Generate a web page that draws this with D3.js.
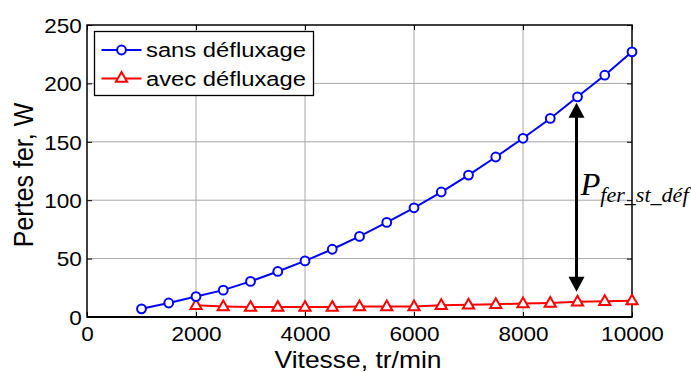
<!DOCTYPE html>
<html>
<head>
<meta charset="utf-8">
<script src="https://cdn.jsdelivr.net/npm/d3@7"></script>
<style>
  html, body { margin: 0; padding: 0; background: #fff; }
  svg { display: block; }
  text { font-family: "Liberation Sans", Arial, sans-serif; fill: #000; }
  text.serif { font-family: "Liberation Serif", "Times New Roman", serif; font-style: italic; }
</style>
</head>
<body>
<svg id="chart" width="691" height="372"></svg>
<script>
// Speed (tr/min) for each series
const speedsSans = [1000, 1500, 2000, 2500, 3000, 3500, 4000, 4500, 5000, 5500,
                    6000, 6500, 7000, 7500, 8000, 8500, 9000, 9500, 10000];
const speedsAvec = [2000, 2500, 3000, 3500, 4000, 4500, 5000, 5500,
                    6000, 6500, 7000, 7500, 8000, 8500, 9000, 9500, 10000];
// Iron losses (W)
const pertesSans = [7, 12, 17.5, 23, 30.5, 39, 48, 58, 69, 81,
                    93.5, 107, 121.5, 137, 153, 170, 188.5, 207, 227];
const pertesAvec = [10, 9, 8.5, 8.5, 8.5, 8.5, 9, 9,
                    9, 10, 10.5, 11, 11.5, 12, 13, 13.5, 14];

const xTicks = [0, 2000, 4000, 6000, 8000, 10000];
const yTicks = [0, 50, 100, 150, 200, 250];
const seriesNames = ["sans défluxage", "avec défluxage"];
const xLabel = "Vitesse, tr/min";
const yLabel = "Pertes fer, W";
const arrowSpeed = 9000;

const svg = d3.select("#chart");
const pLeft = 87, pRight = 632, pTop = 25, pBottom = 317;
const stretch = 1.13;

svg.append("rect").attr("width", 691).attr("height", 372).attr("fill", "#fff");

const x = d3.scaleLinear().domain([0, 10000]).range([pLeft, pRight]);
const y = d3.scaleLinear().domain([0, 250]).range([pBottom, pTop]);

// grid
const grid = svg.append("g").attr("stroke", "#a6a6a6").attr("stroke-width", 1);
grid.selectAll("line.gx").data(xTicks.slice(1, -1)).join("line").attr("class", "gx")
  .attr("x1", d => x(d)).attr("x2", d => x(d)).attr("y1", pTop).attr("y2", pBottom);
grid.selectAll("line.gy").data(yTicks.slice(1, -1)).join("line").attr("class", "gy")
  .attr("y1", d => y(d)).attr("y2", d => y(d)).attr("x1", pLeft).attr("x2", pRight);

// axes with inward ticks on all four sides
const fmt = d3.format("d");
const axB = svg.append("g").attr("transform", `translate(0,${pBottom})`)
  .call(d3.axisBottom(x).tickValues(xTicks).tickFormat(fmt).tickSize(-5).tickSizeOuter(0));
const axL = svg.append("g").attr("transform", `translate(${pLeft},0)`)
  .call(d3.axisLeft(y).tickValues(yTicks).tickFormat(fmt).tickSize(-5).tickSizeOuter(0));
const axT = svg.append("g").attr("transform", `translate(0,${pTop})`)
  .call(d3.axisTop(x).tickValues(xTicks).tickFormat("").tickSize(-5).tickSizeOuter(0));
const axR = svg.append("g").attr("transform", `translate(${pRight},0)`)
  .call(d3.axisRight(y).tickValues(yTicks).tickFormat("").tickSize(-5).tickSizeOuter(0));

[axB, axL, axT, axR].forEach(a => {
  a.select(".domain").remove();
  a.selectAll(".tick line").attr("stroke", "#000").attr("stroke-width", 1);
});
axB.selectAll(".tick text")
  .style("font-size", "20px").attr("fill", "#000")
  .attr("y", 24).attr("dy", 0)
  .attr("transform", `scale(${stretch},1)`);
axL.selectAll(".tick text")
  .style("font-size", "20px").attr("fill", "#000")
  .attr("x", -4.5).attr("dy", "0.36em")
  .attr("transform", `scale(${stretch},1)`);

// box
svg.append("rect").attr("x", pLeft).attr("y", pTop)
  .attr("width", pRight - pLeft).attr("height", pBottom - pTop)
  .attr("fill", "none").attr("stroke", "#000").attr("stroke-width", 1.5);
svg.append("line").attr("x1", pLeft).attr("x2", pRight).attr("y1", pBottom).attr("y2", pBottom)
  .attr("stroke", "#000").attr("stroke-width", 2.2);

// series
const line = d3.line();
const sans = speedsSans.map((s, i) => [x(s), y(pertesSans[i])]);
const avec = speedsAvec.map((s, i) => [x(s), y(pertesAvec[i])]);

svg.append("path").attr("d", line(avec)).attr("fill", "none")
  .attr("stroke", "#ff0000").attr("stroke-width", 2);
svg.append("path").attr("d", line(sans)).attr("fill", "none")
  .attr("stroke", "#0000ff").attr("stroke-width", 2);

const tri = d3.symbol(d3.symbolTriangle, 54);
svg.append("g").selectAll("path").data(avec).join("path")
  .attr("d", tri).attr("transform", d => `translate(${d[0]},${d[1] + 0.5})`)
  .attr("fill", "#fff").attr("stroke", "#ff0000").attr("stroke-width", 2);
svg.append("g").selectAll("circle").data(sans).join("circle")
  .attr("cx", d => d[0]).attr("cy", d => d[1]).attr("r", 4.4)
  .attr("fill", "#fff").attr("stroke", "#0000ff").attr("stroke-width", 2);

// double arrow between the two curves
const ax = x(arrowSpeed) - 1;
const yTop = y(pertesSans[speedsSans.indexOf(arrowSpeed)]) + 6;
const yBot = y(pertesAvec[speedsAvec.indexOf(arrowSpeed)]) - 10;
const headL = 15, headW = 8;
svg.append("line").attr("x1", ax).attr("x2", ax).attr("y1", yTop + headL - 2).attr("y2", yBot - headL + 2)
  .attr("stroke", "#000").attr("stroke-width", 3);
svg.append("path")
  .attr("d", `M${ax},${yTop}L${ax + headW},${yTop + headL}L${ax - headW},${yTop + headL}Z`)
  .attr("fill", "#000");
svg.append("path")
  .attr("d", `M${ax},${yBot}L${ax + headW},${yBot - headL}L${ax - headW},${yBot - headL}Z`)
  .attr("fill", "#000");

// annotation label
const lab = svg.append("g").attr("transform", `translate(${ax + 4},195) scale(1.05,1)`)
  .append("text").attr("class", "serif");
lab.append("tspan").style("font-size", "31px").text("P");
lab.append("tspan").style("font-size", "21px").attr("dy", 7).text("fer_st_déf");

// axis titles
svg.append("g").attr("transform", `translate(358,368) scale(1.15,1)`)
  .append("text").attr("text-anchor", "middle").style("font-size", "23px").text(xLabel);
svg.append("g").attr("transform", `translate(33,175) rotate(-90) scale(1,1.1)`)
  .append("text").attr("text-anchor", "middle").style("font-size", "25px").text(yLabel);

// legend
const lg = svg.append("g");
lg.append("rect").attr("x", 94.5).attr("y", 31.5).attr("width", 219).attr("height", 64)
  .attr("fill", "#fff").attr("stroke", "#000").attr("stroke-width", 1.3);
const rows = [
  { name: seriesNames[0], color: "#0000ff", cy: 50, kind: "circle" },
  { name: seriesNames[1], color: "#ff0000", cy: 78.5, kind: "tri" }
];
rows.forEach(r => {
  lg.append("line").attr("x1", 101.5).attr("x2", 141.5).attr("y1", r.cy).attr("y2", r.cy)
    .attr("stroke", r.color).attr("stroke-width", 2);
  if (r.kind === "circle") {
    lg.append("circle").attr("cx", 121.5).attr("cy", r.cy).attr("r", 4.4)
      .attr("fill", "#fff").attr("stroke", r.color).attr("stroke-width", 2);
  } else {
    lg.append("path").attr("d", tri).attr("transform", `translate(121.5,${r.cy})`)
      .attr("fill", "#fff").attr("stroke", r.color).attr("stroke-width", 2);
  }
  lg.append("g").attr("transform", `translate(146,${r.cy + 7}) scale(1.19,1)`)
    .append("text").style("font-size", "20px").text(r.name);
});
</script>
</body>
</html>
